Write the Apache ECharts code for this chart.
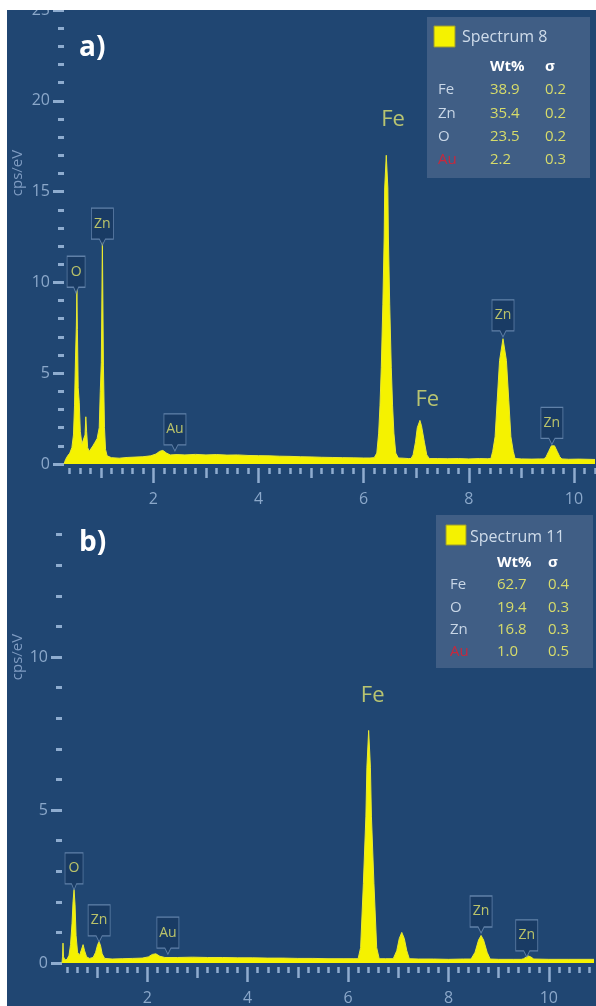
<!DOCTYPE html>
<html><head><meta charset="utf-8">
<script src="https://cdn.jsdelivr.net/npm/echarts@6/dist/echarts.min.js"></script>
<style>html,body{margin:0;padding:0;background:#fff}#c{width:596px;height:1006px}</style>
</head><body><div id="c"></div>
<script>
// ---------- DATA ----------
// Panel a: EDS spectrum (keV, cps/eV)
const spectrumA = [
  [0.30,0],[0.33,0.25],[0.37,0.45],[0.41,0.6],[0.45,0.9],[0.48,1.6],[0.50,3.2],[0.52,6.0],[0.535,7.6],[0.545,9.6],
  [0.555,7.4],[0.57,4.2],[0.59,3.4],[0.61,1.8],[0.64,1.1],[0.67,1.0],[0.70,1.6],[0.715,2.6],[0.73,1.8],[0.75,0.9],
  [0.78,0.7],[0.81,0.8],[0.85,1.0],[0.89,1.2],[0.93,1.4],[0.97,2.0],[0.99,4.0],[1.01,5.6],[1.03,12.2],[1.05,5.4],
  [1.07,2.0],[1.09,0.8],[1.12,0.45],[1.2,0.35],[1.35,0.32],[1.5,0.36],[1.65,0.38],[1.8,0.4],[1.95,0.45],[2.05,0.55],
  [2.12,0.7],[2.18,0.75],[2.25,0.6],[2.32,0.5],[2.45,0.52],[2.6,0.5],[2.8,0.53],[3.0,0.5],[3.2,0.52],[3.4,0.49],
  [3.6,0.5],[3.8,0.47],[4.0,0.46],[4.2,0.45],[4.4,0.43],[4.6,0.42],[4.8,0.4],[5.0,0.39],[5.2,0.37],[5.4,0.36],
  [5.6,0.35],[5.8,0.34],[6.0,0.33],[6.12,0.33],
  [6.20,0.35],[6.25,0.6],[6.285,1.7],[6.31,3.2],[6.335,5.3],[6.365,8.8],[6.39,12.5],[6.40,15.2],[6.43,17.0],[6.46,15.2],
  [6.47,12.5],[6.495,8.8],[6.525,5.3],[6.55,3.2],[6.575,1.7],[6.61,0.6],[6.66,0.33],[6.75,0.32],[6.85,0.3],
  [6.90,0.3],[6.94,0.5],[6.985,1.2],[7.02,2.0],[7.07,2.4],[7.10,2.1],[7.155,1.2],[7.20,0.5],[7.25,0.3],
  [7.4,0.3],[7.6,0.29],[7.8,0.3],[8.0,0.28],[8.2,0.3],[8.35,0.29],
  [8.42,0.3],[8.455,0.7],[8.50,1.5],[8.54,3.5],[8.585,5.7],[8.65,6.9],[8.715,5.7],[8.76,3.5],[8.80,1.5],[8.845,0.7],[8.88,0.3],
  [9.0,0.28],[9.2,0.27],[9.35,0.28],
  [9.43,0.28],[9.47,0.4],[9.52,0.7],[9.57,1.0],[9.60,1.05],[9.63,1.0],[9.68,0.7],[9.73,0.4],[9.77,0.28],
  [9.9,0.26],[10.1,0.27],[10.4,0.25]
];
// Panel b: EDS spectrum (keV, cps/eV)
const spectrumB = [
  [0.30,0],[0.31,0.2],[0.32,0.65],[0.33,0.2],[0.36,0.1],[0.40,0.12],[0.44,0.25],[0.47,0.6],[0.50,1.3],[0.52,2.0],
  [0.54,2.4],[0.56,1.9],[0.58,0.9],[0.61,0.35],[0.65,0.25],[0.68,0.4],[0.72,0.6],[0.75,0.4],[0.79,0.2],[0.85,0.15],
  [0.92,0.18],[0.97,0.35],[1.01,0.6],[1.04,0.7],[1.07,0.55],[1.10,0.3],[1.15,0.15],[1.3,0.13],[1.5,0.14],[1.7,0.15],
  [1.9,0.16],[2.02,0.2],[2.1,0.28],[2.17,0.3],[2.25,0.22],[2.35,0.18],[2.6,0.18],[2.9,0.19],[3.2,0.18],[3.5,0.18],
  [3.8,0.17],[4.1,0.17],[4.4,0.16],[4.7,0.16],[5.0,0.15],[5.3,0.15],[5.6,0.14],[5.9,0.14],[6.1,0.14],
  [6.20,0.14],[6.25,0.5],[6.305,2.6],[6.355,4.8],[6.375,6.4],[6.41,7.6],[6.445,6.4],[6.465,4.8],[6.515,2.6],[6.57,0.5],[6.62,0.14],
  [6.75,0.14],[6.9,0.14],
  [6.92,0.14],[6.97,0.4],[7.02,0.8],[7.07,1.0],[7.12,0.8],[7.17,0.4],[7.22,0.14],
  [7.4,0.13],[7.7,0.13],[8.0,0.12],[8.3,0.13],[8.45,0.13],
  [8.47,0.13],[8.53,0.35],[8.60,0.75],[8.65,0.9],[8.70,0.75],[8.77,0.35],[8.83,0.13],
  [9.0,0.12],[9.3,0.12],[9.45,0.12],
  [9.50,0.14],[9.55,0.2],[9.59,0.23],[9.64,0.2],[9.70,0.13],
  [10.0,0.12],[10.4,0.12],[10.9,0.12]
];
// Peak callout tags: [element, keV, cps/eV at tip]
const peakTagsA = [['O',0.53,9.4],['Zn',1.03,12.05],['Au',2.41,0.72],['Zn',8.65,7.0],['Zn',9.58,1.08]];
const peakTagsB = [['O',0.54,2.39],['Zn',1.04,0.69],['Au',2.41,0.29],['Zn',8.65,0.98],['Zn',9.56,0.2]];
// Plain element labels: [text, keV, cps/eV]
const feLabelsA = [['Fe',6.56,18.95],['Fe',7.21,3.53]];
const feLabelsB = [['Fe',6.49,8.73]];
// Tick values
const xMinorTicksA = [0.4,0.6,0.8,1,1.2,1.4,1.6,1.8,2,2.2,2.4,2.6,2.8,3,3.2,3.4,3.6,3.8,4,4.2,4.4,4.6,4.8,5,5.2,5.4,5.6,5.8,6,6.2,6.4,6.6,6.8,7,7.2,7.4,7.6,7.8,8,8.2,8.4,8.6,8.8,9,9.2,9.4,9.6,9.8,10,10.2,10.4];
const xMinorTicksB = [0.4,0.6,0.8,1,1.2,1.4,1.6,1.8,2,2.2,2.4,2.6,2.8,3,3.2,3.4,3.6,3.8,4,4.2,4.4,4.6,4.8,5,5.2,5.4,5.6,5.8,6,6.2,6.4,6.6,6.8,7,7.2,7.4,7.6,7.8,8,8.2,8.4,8.6,8.8,9,9.2,9.4,9.6,9.8,10,10.2,10.4,10.6,10.8];
const xIntTicks = [1,2,3,4,5,6,7,8,9,10];
const xLabelTicks = [2,4,6,8,10];
const yMinorTicksA = [0,1,2,3,4,5,6,7,8,9,10,11,12,13,14,15,16,17,18,19,20,21,22,23,24,25];
const yMajorTicksA = [0,5,10,15,20,25];
const yMinorTicksB = [0,1,2,3,4,5,6,7,8,9,10,11,12,13,14];
const yMajorTicksB = [0,5,10];
// Legend tables
const titleA = 'Spectrum 8';
const titleB = 'Spectrum 11';
const tableHeader = ['Wt%','σ'];
const compA = [['Fe','38.9','0.2'],['Zn','35.4','0.2'],['O','23.5','0.2'],['Au','2.2','0.3']];
const compB = [['Fe','62.7','0.4'],['O','19.4','0.3'],['Zn','16.8','0.3'],['Au','1.0','0.5']];
const panelNames = ['a)','b)'];
const yAxisTitle = 'cps/eV';

// ---------- STYLE ----------
const FONT = '"Open Sans", "Noto Sans", sans-serif';
const BG = '#204672';
const TICK = '#8eaccf';
const AXLBL = '#8ba8ca';
const YEL = '#f5f200';
const TAGTXT = '#e2e56c';

function xAx(grid, min, max, ticks, len, labels, margin) {
  return {
    type:'value', gridIndex:grid, min:min, max:max, position:'bottom', offset:4,
    axisLine:{show:false, onZero:false}, splitLine:{show:false},
    axisTick:{show:true, customValues:ticks, length:len, inside:false, lineStyle:{color:TICK, width:2.5}},
    axisLabel: labels ? {show:true, customValues:labels, margin:margin, color:AXLBL, fontSize:16, fontFamily:FONT} : {show:false}
  };
}
function yAx(grid, max, ticks, len, labels) {
  return {
    type:'value', gridIndex:grid, min:0, max:max, position:'left',
    axisLine:{show:false, onZero:false}, splitLine:{show:false},
    axisTick:{show:true, customValues:ticks, length:len, inside:false, lineStyle:{color:TICK, width:3}},
    axisLabel: labels ? {show:true, customValues:labels, margin:14, color:AXLBL, fontSize:16, fontFamily:FONT} : {show:false}
  };
}
const tagPath = 'path://M0,0 L22,0 L22,31 L14,31 L11,37 L8,31 L0,31 Z';
function tagSeries(tags, xi, yi) {
  return {
    type:'scatter', xAxisIndex:xi, yAxisIndex:yi, z:5, silent:true,
    symbol: tagPath, symbolOffset:[0,'-50%'],
    itemStyle:{color:'#183860', borderColor:'#7291b8', borderWidth:1},
    label:{show:true, position:'inside', formatter:'{b}', color:TAGTXT, fontSize:14, fontFamily:FONT, offset:[0,-3]},
    data: tags.map(t => ({name:t[0], value:[t[1],t[2]], symbolSize:[t[0].length > 1 ? 22 : 18, 37]}))
  };
}
function textSeries(items, xi, yi) {
  return {
    type:'scatter', xAxisIndex:xi, yAxisIndex:yi, z:5, silent:true,
    symbolSize:1, itemStyle:{color:'rgba(0,0,0,0)'},
    label:{show:true, position:'inside', formatter:'{b}', color:'#dfe370', fontSize:22, fontFamily:FONT},
    data: items.map(t => ({name:t[0], value:[t[1],t[2]]}))
  };
}
function specSeries(data, xi, yi) {
  return {
    type:'line', xAxisIndex:xi, yAxisIndex:yi, z:3, silent:true, symbol:'none',
    lineStyle:{color:'#e9e830', width:1}, areaStyle:{color:YEL, opacity:1},
    data:data
  };
}
function legendBox(x, y, w, h, title, comp, sq, tx, hy, cols, rowY, rowH) {
  const els = [
    {type:'rect', shape:{x:x, y:y, width:w, height:h}, style:{fill:'#405e85'}, z:50},
    {type:'rect', shape:{x:sq[0], y:sq[1], width:sq[2], height:sq[2]}, style:{fill:YEL, stroke:'#9a9a30', lineWidth:1}, z:51},
    {type:'text', x:tx[0], y:tx[1], style:{text:title, fill:'#cfdcea', font:'16px '+FONT, verticalAlign:'middle'}, z:51},
    {type:'text', x:cols[1], y:hy, style:{text:tableHeader[0], fill:'#ffffff', font:'bold 15px '+FONT, verticalAlign:'middle'}, z:51},
    {type:'text', x:cols[2], y:hy, style:{text:tableHeader[1], fill:'#ffffff', font:'bold 15px '+FONT, verticalAlign:'middle'}, z:51}
  ];
  comp.forEach((r, i) => {
    const yy = rowY + i*rowH;
    els.push({type:'text', x:cols[0], y:yy, style:{text:r[0], fill: r[0]==='Au' ? '#c8283c' : '#c8d6e6', font:'15px '+FONT, verticalAlign:'middle'}, z:51});
    els.push({type:'text', x:cols[1], y:yy, style:{text:r[1], fill:'#d7dc6a', font:'15px '+FONT, verticalAlign:'middle'}, z:51});
    els.push({type:'text', x:cols[2], y:yy, style:{text:r[2], fill:'#d7dc6a', font:'15px '+FONT, verticalAlign:'middle'}, z:51});
  });
  return els;
}

const chart = echarts.init(document.getElementById('c'), null, {renderer:'canvas'});
chart.setOption({
  animation:false,
  backgroundColor:'#ffffff',
  grid:[
    {left:64, top:10, width:531, height:454},
    {left:62, top:512, width:532, height:451}
  ],
  xAxis:[
    xAx(0, 0.3, 10.4, xMinorTicksA, 6, null),
    xAx(0, 0.3, 10.4, xIntTicks, 10, null),
    xAx(0, 0.3, 10.4, xLabelTicks, 15, xLabelTicks, 23),
    xAx(1, 0.3, 10.9, xMinorTicksB, 6, null),
    xAx(1, 0.3, 10.9, xIntTicks, 11, null),
    xAx(1, 0.3, 10.9, xLabelTicks, 15, xLabelTicks, 23)
  ],
  yAxis:[
    yAx(0, 25, yMinorTicksA, 6, null),
    yAx(0, 25, yMajorTicksA, 11, yMajorTicksA),
    yAx(1, 14.74, yMinorTicksB, 6, null),
    yAx(1, 14.74, yMajorTicksB, 11, yMajorTicksB)
  ],
  series:[
    specSeries(spectrumA, 0, 0),
    tagSeries(peakTagsA, 0, 0),
    textSeries(feLabelsA, 0, 0),
    specSeries(spectrumB, 3, 2),
    tagSeries(peakTagsB, 3, 2),
    textSeries(feLabelsB, 3, 2)
  ],
  graphic:[
    {type:'rect', shape:{x:7, y:10, width:589, height:501}, style:{fill:BG}, z:-5},
    {type:'rect', shape:{x:7, y:511, width:589, height:495}, style:{fill:BG}, z:-5},
    {type:'rect', shape:{x:0, y:0, width:596, height:10}, style:{fill:'#ffffff'}, z:100},
    {type:'text', x:79, y:48, style:{text:panelNames[0], fill:'#ffffff', font:'bold 28px '+FONT, verticalAlign:'middle'}, z:10},
    {type:'text', x:79, y:543, style:{text:panelNames[1], fill:'#ffffff', font:'bold 28px '+FONT, verticalAlign:'middle'}, z:10},
    {type:'text', x:18, y:173, rotation:Math.PI/2, style:{text:yAxisTitle, fill:'#7f9cc2', font:'15px '+FONT, align:'center', verticalAlign:'middle'}, z:10},
    {type:'text', x:18, y:657, rotation:Math.PI/2, style:{text:yAxisTitle, fill:'#7f9cc2', font:'15px '+FONT, align:'center', verticalAlign:'middle'}, z:10}
  ]
  .concat(legendBox(427, 17, 163, 161, titleA, compA, [434,26,21], [462,37], 67, [438,490,545], 90, 23.3))
  .concat(legendBox(436, 515, 157, 153, titleB, compB, [446,525,20], [470,537], 563, [450,497,548], 585, 22.3))
});
</script>
</body></html>
